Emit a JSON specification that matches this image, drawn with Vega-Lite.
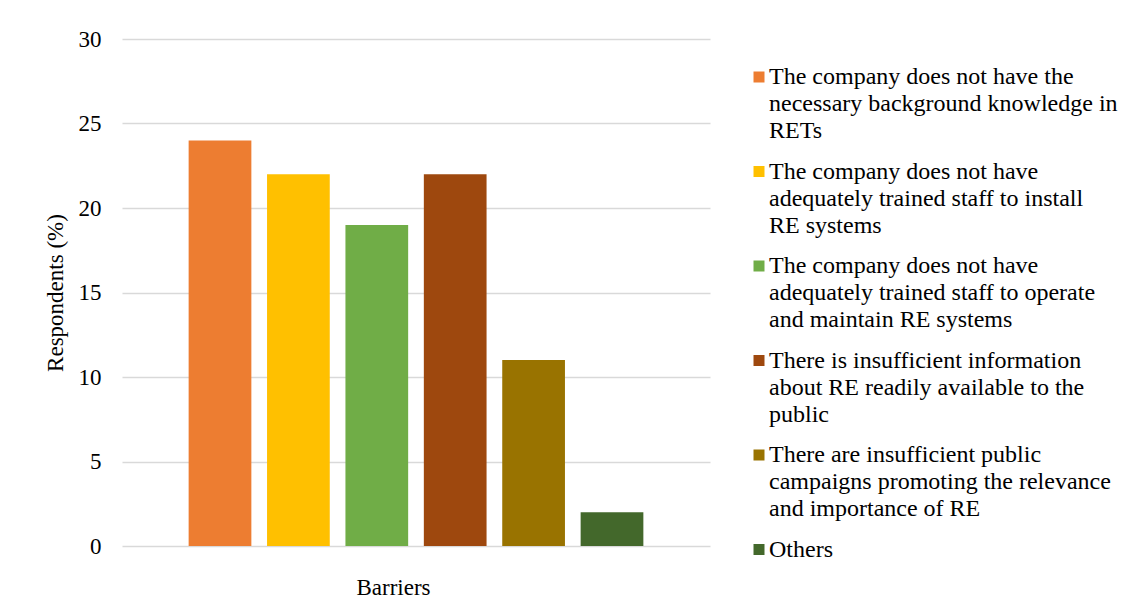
{
  "$schema": "https://vega.github.io/schema/vega-lite/v6.json",
  "width": 588,
  "height": 507,
  "autosize": {"type": "none"},
  "padding": {"left": 122, "top": 39, "right": 429, "bottom": 59},
  "background": "#ffffff",
  "data": {
    "values": [
      {"group": "Barriers", "barrier": "The company does not have the|necessary background knowledge in|RETs", "respondents": 24},
      {"group": "Barriers", "barrier": "The company does not have|adequately trained staff to install|RE systems", "respondents": 22},
      {"group": "Barriers", "barrier": "The company does not have|adequately trained staff to operate|and maintain RE systems", "respondents": 19},
      {"group": "Barriers", "barrier": "There is insufficient information|about RE readily available to the|public", "respondents": 22},
      {"group": "Barriers", "barrier": "There are insufficient public|campaigns promoting the relevance|and importance of RE", "respondents": 11},
      {"group": "Barriers", "barrier": "Others", "respondents": 2}
    ]
  },
  "mark": {"type": "bar"},
  "encoding": {
    "x": {
      "field": "group",
      "type": "nominal",
      "scale": {"paddingInner": 0, "paddingOuter": 0.125},
      "axis": {
        "title": "Barriers",
        "labels": false,
        "ticks": false,
        "domain": false,
        "titlePadding": 30,
        "titleX": 271
      }
    },
    "xOffset": {
      "field": "barrier",
      "type": "nominal",
      "sort": null,
      "scale": {"paddingInner": 0.2, "paddingOuter": 0.1}
    },
    "y": {
      "field": "respondents",
      "type": "quantitative",
      "scale": {"domain": [0, 30]},
      "axis": {
        "title": "Respondents (%)",
        "values": [0, 5, 10, 15, 20, 25, 30],
        "domain": false,
        "ticks": false,
        "tickSize": 0,
        "labelPadding": 21,
        "titlePadding": 11,
        "grid": true
      }
    },
    "color": {
      "field": "barrier",
      "type": "nominal",
      "sort": null,
      "scale": {
        "range": ["#ED7D31", "#FFC000", "#70AD47", "#9E480E", "#997300", "#43682B"]
      },
      "legend": {
        "title": null,
        "orient": "none",
        "legendX": 625,
        "legendY": 26,
        "padding": 0,
        "symbolType": "square",
        "symbolSize": 121,
        "symbolStrokeWidth": 0,
        "labelFontSize": 24,
        "labelLimit": 0,
        "labelOffset": -2,
        "rowPadding": 16.5,
        "labelBaseline": "middle",
        "labelExpr": "split(datum.label, '|')"
      }
    }
  },
  "config": {
    "font": "Liberation Serif",
    "view": {"stroke": null},
    "axis": {
      "labelFont": "Liberation Serif",
      "labelFontSize": 23,
      "labelColor": "#000000",
      "titleFont": "Liberation Serif",
      "titleFontSize": 23,
      "titleFontWeight": "normal",
      "titleColor": "#000000",
      "gridColor": "#d9d9d9",
      "gridWidth": 1.5,
      "gridOpacity": 1
    },
    "legend": {
      "labelFont": "Liberation Serif",
      "labelColor": "#000000"
    },
    "style": {
      "guide-label": {"lineHeight": 27}
    }
  }
}
